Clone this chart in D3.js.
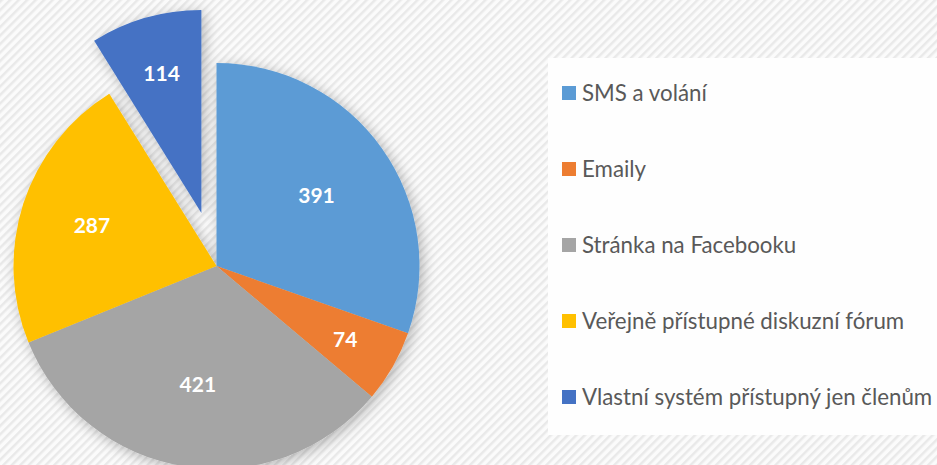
<!DOCTYPE html>
<html>
<head>
<meta charset="utf-8">
<script src="https://cdn.jsdelivr.net/npm/d3@7"></script>
<style>
  body { margin: 0; background: #fafafa; }
  svg { display: block; }
</style>
</head>
<body>
<script>
// Chart data
const categories = ["SMS a volání", "Emaily", "Stránka na Facebooku", "Veřejně přístupné diskuzní fórum", "Vlastní systém přístupný jen členům"];
const values = [391, 74, 421, 287, 114];
const colors = ["#5b9bd5", "#ed7d31", "#a5a5a5", "#ffc000", "#4472c4"];
const explodedIndex = 4;

const width = 937, height = 465;
const cx = 216.5, cy = 266, radius = 203;
const explodeDist = 55;

const svg = d3.select("body").append("svg")
    .attr("width", width)
    .attr("height", height);

const defs = svg.append("defs");

// Diagonal stripe background
const pattern = defs.append("pattern")
    .attr("id", "stripes")
    .attr("patternUnits", "userSpaceOnUse")
    .attr("width", 6)
    .attr("height", 6)
    .attr("patternTransform", "rotate(45)");
pattern.append("rect").attr("width", 6).attr("height", 6).attr("fill", "#fbfbfb");
pattern.append("rect").attr("width", 2.5).attr("height", 6).attr("fill", "#e9e9e9");

const shadow = defs.append("filter")
    .attr("id", "shadow")
    .attr("x", "-20%").attr("y", "-20%")
    .attr("width", "140%").attr("height", "140%");
shadow.append("feDropShadow")
    .attr("dx", 3).attr("dy", 3)
    .attr("stdDeviation", 7)
    .attr("flood-color", "#000")
    .attr("flood-opacity", 0.28);

svg.append("rect")
    .attr("width", width)
    .attr("height", height)
    .attr("fill", "url(#stripes)");

// Legend box
svg.append("rect")
    .attr("x", 548)
    .attr("y", 58)
    .attr("width", width - 548)
    .attr("height", 377)
    .attr("fill", "#fefefe");

// Pie
const data = categories.map((c, i) => ({ name: c, value: values[i], color: colors[i] }));
const pie = d3.pie().sort(null).value(d => d.value);
const arcs = pie(data);
const total = d3.sum(values);

const arc = d3.arc().innerRadius(0).outerRadius(radius);

const pieG = svg.append("g")
    .attr("transform", "translate(" + cx + "," + cy + ")")
    .attr("filter", "url(#shadow)");

function offset(d, i)
{
    if (i !== explodedIndex) return [0, 0];
    const mid = (d.startAngle + d.endAngle) / 2;
    return [Math.sin(mid) * explodeDist, -Math.cos(mid) * explodeDist];
}

pieG.selectAll("path")
    .data(arcs)
    .join("path")
    .attr("transform", (d, i) => { const o = offset(d, i); return "translate(" + o[0] + "," + o[1] + ")"; })
    .attr("fill", d => d.data.color)
    .attr("d", arc);

// Value labels (best-fit style: smaller slices pushed outward)
const labelG = svg.append("g")
    .attr("transform", "translate(" + cx + "," + cy + ")");

labelG.selectAll("text")
    .data(arcs)
    .join("text")
    .attr("transform", (d, i) => {
        const o = offset(d, i);
        const frac = d.value / total;
        const r = radius * (0.59 + 0.17 * Math.max(0, 1 - frac / 0.33));
        const mid = (d.startAngle + d.endAngle) / 2;
        return "translate(" + (o[0] + Math.sin(mid) * r) + "," + (o[1] - Math.cos(mid) * r) + ")";
    })
    .attr("text-anchor", "middle")
    .attr("dy", "0.36em")
    .style("font-family", "Lato, 'Open Sans', sans-serif")
    .style("font-weight", "bold")
    .style("font-size", "21px")
    .attr("fill", "#ffffff")
    .text(d => d.value);

// Legend
const legendY = d3.scalePoint()
    .domain(categories)
    .range([93, 397]);

const legend = svg.append("g");
const items = legend.selectAll("g")
    .data(data)
    .join("g")
    .attr("transform", d => "translate(562," + legendY(d.name) + ")");

items.append("rect")
    .attr("x", 0)
    .attr("y", -7)
    .attr("width", 14)
    .attr("height", 14)
    .attr("fill", d => d.color);

items.append("text")
    .attr("x", 20)
    .attr("dy", "0.36em")
    .style("font-family", "Lato, 'Open Sans', sans-serif")
    .style("font-size", "22.3px")
    .attr("fill", "#595959")
    .text(d => d.name);
</script>
</body>
</html>
